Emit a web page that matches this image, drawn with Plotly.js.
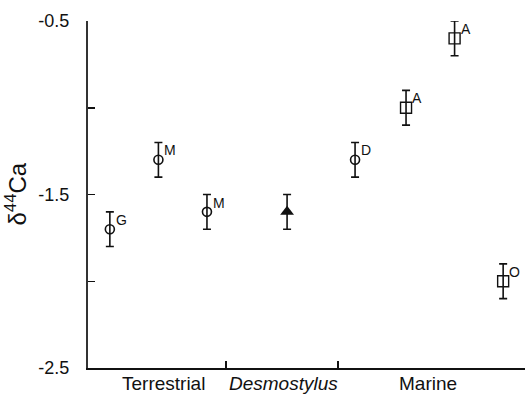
<!DOCTYPE html>
<html><head><meta charset="utf-8">
<script src="https://cdn.plot.ly/plotly-3.0.1.min.js"></script>
<style>html,body{margin:0;padding:0;background:#fff}#plot{width:526px;height:394px}</style>
</head><body><div id="plot"></div>
<script>
// Data
const xPos = [0.45, 1.45, 2.45, 4.1, 5.5, 6.55, 7.55, 8.55];
const d44Ca = [-1.7, -1.3, -1.6, -1.6, -1.3, -1.0, -0.6, -2.0];
const errVals = [0.1, 0.1, 0.1, 0.1, 0.1, 0.1, 0.1, 0.1];
const pointLabels = ["G", "M", "M", "", "D", "A", "A", "O"];
const categoryNames = ["Terrestrial", "<i>Desmostylus</i>", "Marine"];
const categoryPos = [1.55, 4.02, 7.01];
const yTickVals = [-0.5, -1.0, -1.5, -2.0, -2.5];
const yTickText = ["-0.5", "", "-1.5", "", "-2.5"];
const xTickVals = [2.85, 5.15, 9];

function pick(arr, idx) { return idx.map(i => arr[i]); }
const circleIdx = [0, 1, 2, 4];
const squareIdx = [5, 6, 7];
const triIdx = [3];

const err = idx => ({type: 'data', array: pick(errVals, idx), visible: true, color: '#111', thickness: 1.6, width: 4});

const traces = [
  {x: pick(xPos, circleIdx), y: pick(d44Ca, circleIdx), mode: 'markers', type: 'scatter',
   marker: {symbol: 'circle-open', size: 9, color: '#111', line: {width: 1.6, color: '#111'}},
   error_y: err(circleIdx), cliponaxis: false},
  {x: pick(xPos, squareIdx), y: pick(d44Ca, squareIdx), mode: 'markers', type: 'scatter',
   marker: {symbol: 'square-open', size: 11, color: '#111', line: {width: 1.4, color: '#111'}},
   error_y: err(squareIdx), cliponaxis: false},
  {x: pick(xPos, triIdx), y: pick(d44Ca, triIdx), mode: 'markers', type: 'scatter',
   marker: {symbol: 'triangle-up', size: 12, color: '#111'},
   error_y: err(triIdx), cliponaxis: false}
];

const annotations = [];
xPos.forEach((x, i) => {
  if (pointLabels[i]) annotations.push({x: x, y: d44Ca[i] + errVals[i], xref: 'x', yref: 'y',
    text: pointLabels[i], showarrow: false, xanchor: 'left', yanchor: 'top', xshift: 4, yshift: 2,
    font: {family: 'Liberation Sans, Arial', size: 14, color: '#111'}});
});
categoryNames.forEach((t, i) => annotations.push({x: categoryPos[i], y: 0, xref: 'x', yref: 'paper',
  text: t, showarrow: false, yanchor: 'top', yshift: -3,
  font: {family: 'Liberation Sans, Arial', size: 19, color: '#111'}}));
annotations.push({x: 0, y: 0.5, xref: 'paper', yref: 'paper', xshift: -90,
  text: 'δ<sup>44</sup>Ca', showarrow: false, textangle: -90,
  font: {family: 'Liberation Sans, Arial', size: 24, color: '#111'}});

const layout = {
  width: 526, height: 394,
  margin: {l: 88, r: 1, t: 21, b: 26},
  paper_bgcolor: '#fff', plot_bgcolor: '#fff',
  showlegend: false,
  font: {family: 'Liberation Sans, Arial', color: '#111'},
  xaxis: {range: [0, 9], showgrid: false, zeroline: false, showline: true, linecolor: '#111', linewidth: 1.5,
          ticks: 'inside', ticklen: 7, tickwidth: 1.8, tickcolor: '#111', tickvals: xTickVals, showticklabels: false},
  yaxis: {range: [-2.5, -0.5], showgrid: false, zeroline: false, showline: true, linecolor: '#333', linewidth: 2,
          ticks: 'inside', ticklen: 7, tickwidth: 1.5, tickcolor: '#111', tickvals: yTickVals, ticktext: yTickText,
          tickfont: {size: 18, color: '#111'}, ticklabelstandoff: 13},
  annotations: annotations
};
Plotly.newPlot('plot', traces, layout, {staticPlot: true});
</script></body></html>
